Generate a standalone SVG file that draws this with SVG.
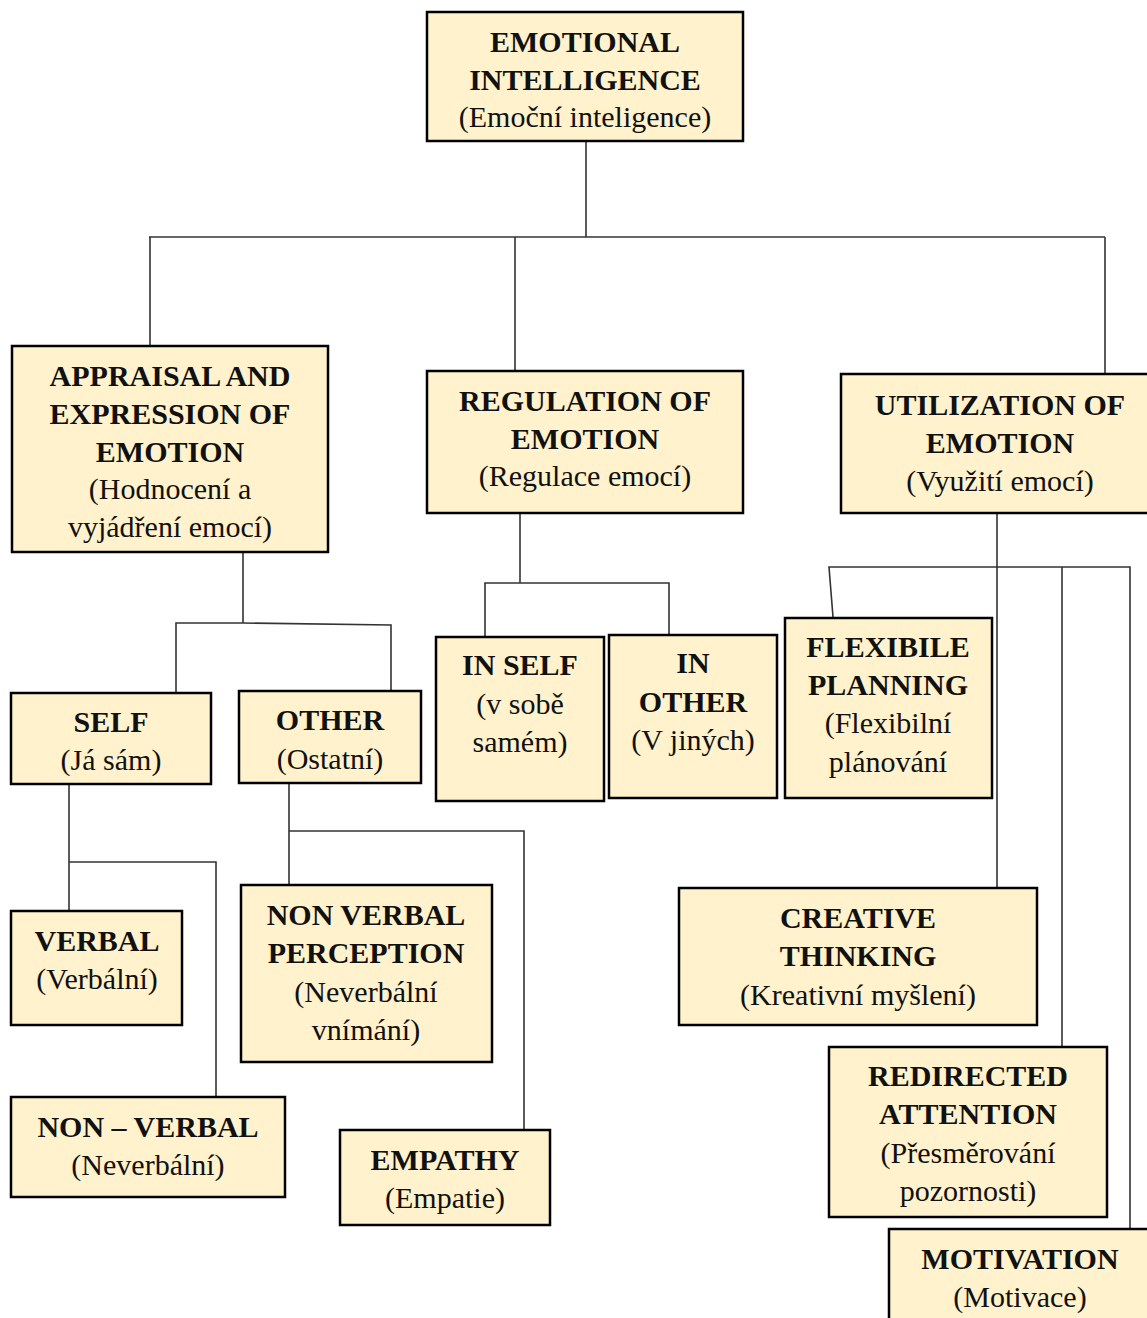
<svg xmlns="http://www.w3.org/2000/svg" width="1147" height="1318" viewBox="0 0 1147 1318">
<style>
.box{fill:#FFF2CC;stroke:#000;stroke-width:2.5}
.b{font-family:"Liberation Serif","Times New Roman",serif;font-size:30px;font-weight:bold;text-anchor:middle;fill:#111}
.r{font-family:"Liberation Serif","Times New Roman",serif;font-size:30px;text-anchor:middle;fill:#111}
.c{fill:none;stroke:#333;stroke-width:1.6}
</style>
<rect width="1147" height="1318" fill="#fff"/>
<g id="connectors">
<path class="c" d="M586 141 V237"/>
<path class="c" d="M149 237 H1105"/>
<path class="c" d="M150 237 V346"/>
<path class="c" d="M515 237 V371"/>
<path class="c" d="M1105 237 V374"/>
<path class="c" d="M243 553 V623"/>
<path class="c" d="M176 692 V623 H243 L391 625 V691"/>
<path class="c" d="M69 784 V911"/>
<path class="c" d="M69 862 H216 V1097"/>
<path class="c" d="M289 783 V885"/>
<path class="c" d="M289 831 H524 V1130"/>
<path class="c" d="M520 513 V583"/>
<path class="c" d="M485 637 V583 H669 V635"/>
<path class="c" d="M997 513 V888"/>
<path class="c" d="M833 617 L829 567 H1130 V1229"/>
<path class="c" d="M1062 567 V1047"/>
</g>
<g id="ei">
<rect class="box" x="427" y="12" width="316" height="129"/>
<text class="b" x="585" y="52">EMOTIONAL</text>
<text class="b" x="585" y="90">INTELLIGENCE</text>
<text class="r" x="585" y="127">(Emoční inteligence)</text>
</g>
<g id="appraisal">
<rect class="box" x="12" y="346" width="316" height="206"/>
<text class="b" x="170" y="386">APPRAISAL AND</text>
<text class="b" x="170" y="424">EXPRESSION OF</text>
<text class="b" x="170" y="462">EMOTION</text>
<text class="r" x="170" y="499">(Hodnocení a</text>
<text class="r" x="170" y="537">vyjádření emocí)</text>
</g>
<g id="regulation">
<rect class="box" x="427" y="371" width="316" height="142"/>
<text class="b" x="585" y="411">REGULATION OF</text>
<text class="b" x="585" y="449">EMOTION</text>
<text class="r" x="585" y="486">(Regulace emocí)</text>
</g>
<g id="utilization">
<rect class="box" x="841" y="374" width="320" height="139"/>
<text class="b" x="1000" y="415">UTILIZATION OF</text>
<text class="b" x="1000" y="453">EMOTION</text>
<text class="r" x="1000" y="491">(Využití emocí)</text>
</g>
<g id="self">
<rect class="box" x="11" y="693" width="200" height="91"/>
<text class="b" x="111" y="732">SELF</text>
<text class="r" x="111" y="770">(Já sám)</text>
</g>
<g id="other">
<rect class="box" x="239" y="691" width="182" height="92"/>
<text class="b" x="330" y="730">OTHER</text>
<text class="r" x="330" y="769">(Ostatní)</text>
</g>
<g id="inself">
<rect class="box" x="436" y="637" width="168" height="164"/>
<text class="b" x="520" y="675">IN SELF</text>
<text class="r" x="520" y="714">(v sobě</text>
<text class="r" x="520" y="752">samém)</text>
</g>
<g id="inother">
<rect class="box" x="609" y="635" width="168" height="163"/>
<text class="b" x="693" y="673">IN</text>
<text class="b" x="693" y="712">OTHER</text>
<text class="r" x="693" y="750">(V jiných)</text>
</g>
<g id="flexible">
<rect class="box" x="785" y="618" width="207" height="180"/>
<text class="b" x="888" y="657">FLEXIBILE</text>
<text class="b" x="888" y="695">PLANNING</text>
<text class="r" x="888" y="733">(Flexibilní</text>
<text class="r" x="888" y="772">plánování</text>
</g>
<g id="verbal">
<rect class="box" x="11" y="911" width="171" height="114"/>
<text class="b" x="97" y="951">VERBAL</text>
<text class="r" x="97" y="989">(Verbální)</text>
</g>
<g id="nonverbalperception">
<rect class="box" x="241" y="885" width="251" height="177"/>
<text class="b" x="366" y="925">NON VERBAL</text>
<text class="b" x="366" y="963">PERCEPTION</text>
<text class="r" x="366" y="1002">(Neverbální</text>
<text class="r" x="366" y="1040">vnímání)</text>
</g>
<g id="creative">
<rect class="box" x="679" y="888" width="358" height="137"/>
<text class="b" x="858" y="928">CREATIVE</text>
<text class="b" x="858" y="966">THINKING</text>
<text class="r" x="858" y="1005">(Kreativní myšlení)</text>
</g>
<g id="nonverbal">
<rect class="box" x="11" y="1097" width="274" height="100"/>
<text class="b" x="148" y="1137">NON – VERBAL</text>
<text class="r" x="148" y="1175">(Neverbální)</text>
</g>
<g id="empathy">
<rect class="box" x="340" y="1130" width="210" height="95"/>
<text class="b" x="445" y="1170">EMPATHY</text>
<text class="r" x="445" y="1208">(Empatie)</text>
</g>
<g id="redirected">
<rect class="box" x="829" y="1047" width="278" height="170"/>
<text class="b" x="968" y="1086">REDIRECTED</text>
<text class="b" x="968" y="1124">ATTENTION</text>
<text class="r" x="968" y="1163">(Přesměrování</text>
<text class="r" x="968" y="1201">pozornosti)</text>
</g>
<g id="motivation">
<rect class="box" x="889" y="1229" width="270" height="100"/>
<text class="b" x="1020" y="1269">MOTIVATION</text>
<text class="r" x="1020" y="1307">(Motivace)</text>
</g>
</svg>
